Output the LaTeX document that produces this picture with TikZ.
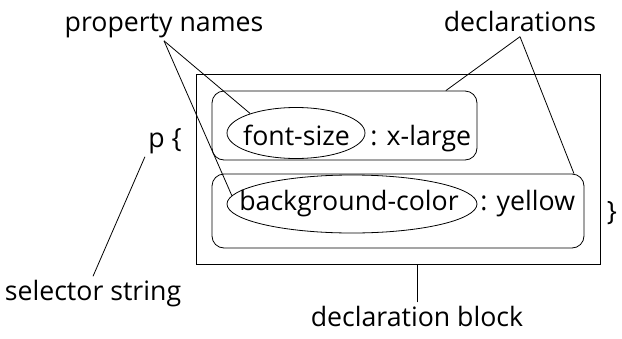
\documentclass[tikz,border=0pt]{standalone}
\usepackage{fontspec}
\setmainfont{Open Sans}
\usetikzlibrary{positioning,shapes.geometric}
\tikzset{
    x=1pt,
    y=-1pt,
    lbl/.style = {
        shape=rectangle,
        inner sep=3pt,
        anchor=base,
        font=\fontsize{26.7}{30}\selectfont
    },
    block/.style = {
        draw,
        shape=rectangle,
        minimum width=404pt,
        minimum height=190pt,
        line width=0.9pt
    },
    decl/.style = {
        draw,
        shape=rectangle,
        rounded corners=12pt,
        line width=0.8pt
    },
    prop/.style = {
        draw,
        shape=ellipse,
        inner sep=0pt,
        line width=0.8pt
    },
    every path/.style = {line width=0.8pt},
}
\begin{document}
\begin{tikzpicture}
            \useasboundingbox (0,0) rectangle (622,338);
            \node[block] (outer) at (398,169) {};
            \node[decl, minimum width=265pt, minimum height=69pt] (upbox) at (344.5,125.5) {};
            \node[decl, minimum width=372pt, minimum height=74pt] (lowbox) at (398,211) {};
            \node[prop, minimum width=138pt, minimum height=51pt] (fs) at (296,133) {};
            \node[prop, minimum width=250pt, minimum height=58pt] (bg) at (352,204) {};
            \node[lbl] (fstxt) at (296.5,145) {font-size};
            \node[lbl] (bgtxt) at (349,210) {background-color};
            \node[lbl, anchor=base west] (xl) at (367,145) {: x-large};
            \node[lbl, anchor=base west] (yl) at (477,210) {: yellow};
            \node[lbl] (ptxt) at (165,147) {p \{};
            \node[lbl] (close) at (612,220) {\}};
            \node[lbl] (names) at (164,31) {property names};
            \node[lbl, inner sep=5pt] (decls) at (520,31) {declarations};
            \node[lbl] (sel) at (93,300) {selector string};
            \node[lbl] (blk) at (417,326) {declaration block};

            \path[draw] (names.south) -- (fs.157);
            \path[draw] (names.south) -- (bg.176);
            \path[draw] (decls.south) -- (upbox.19.5);
            \path[draw] (decls.south) -- (lowbox.12);
            \path[draw] (sel.north) -- (ptxt.south west);
            \path[draw] (blk.north) -- (blk.north |- outer.south);
        \end{tikzpicture}
\end{document}
